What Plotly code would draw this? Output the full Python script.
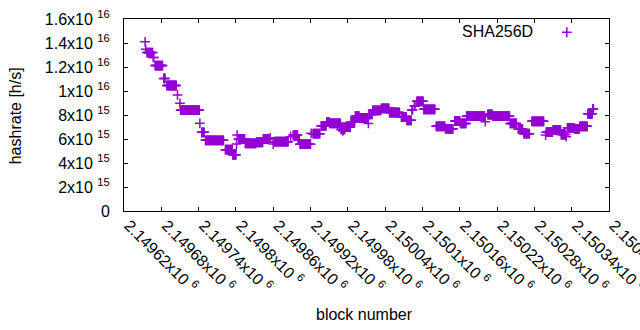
import plotly.graph_objects as go

# ---- data (runs of equal hashrate over consecutive blocks) ----
run_start = [2149654, 2149655, 2149657, 2149667, 2149670, 2149684, 2149689, 2149706, 2149710, 2149711,
             2149742, 2149745, 2149751, 2149783, 2149795, 2149801, 2149802, 2149804, 2149815, 2149833,
             2149844, 2149855, 2149860, 2149862, 2149888, 2149892, 2149900, 2149903, 2149921, 2149924,
             2149937, 2149946, 2149951, 2149969, 2149972, 2149973, 2149976, 2149985, 2149992, 2149999,
             2150013, 2150014, 2150020, 2150034, 2150047, 2150066, 2150075, 2150083, 2150087, 2150091,
             2150102, 2150122, 2150137, 2150152, 2150161, 2150171, 2150201, 2150205, 2150213, 2150241,
             2150254, 2150263, 2150276, 2150298, 2150299, 2150310, 2150323, 2150331, 2150333, 2150345,
             2150353, 2150366, 2150374]
run_end = [2149654, 2149655, 2149666, 2149668, 2149682, 2149686, 2149704, 2149706, 2149710, 2149741,
           2149742, 2149749, 2149780, 2149794, 2149800, 2149801, 2149802, 2149814, 2149832, 2149843,
           2149853, 2149855, 2149860, 2149884, 2149888, 2149899, 2149902, 2149920, 2149921, 2149935,
           2149945, 2149950, 2149968, 2149971, 2149972, 2149975, 2149984, 2149991, 2149998, 2150012,
           2150013, 2150019, 2150033, 2150046, 2150063, 2150074, 2150082, 2150084, 2150088, 2150101,
           2150120, 2150136, 2150149, 2150160, 2150170, 2150200, 2150201, 2150212, 2150240, 2150251,
           2150261, 2150272, 2150295, 2150298, 2150309, 2150322, 2150330, 2150331, 2150344, 2150352,
           2150365, 2150373, 2150375]
run_value_e15 = [14.1, 13.47, 13.2, 12.8, 12.12, 11.05, 10.46, 9.67, 8.97, 8.40,
                 7.31, 6.56, 5.89, 5.11, 4.68, 5.58, 6.33, 6.0, 5.64, 5.73,
                 6.0, 6.1, 5.58, 5.78, 6.19, 6.33, 5.9, 5.57, 6.47, 6.44,
                 7.1, 7.4, 7.3, 6.8, 6.67, 6.8, 7.0, 7.42, 7.9, 7.75,
                 7.3, 8.05, 8.39, 8.56, 8.21, 7.83, 7.56, 8.42, 8.75, 9.14,
                 8.47, 7.06, 6.85, 7.5, 7.3, 7.9, 7.44, 8.04, 7.9, 7.3,
                 6.82, 6.44, 7.47, 6.33, 6.57, 6.75, 6.37, 6.19, 6.93, 6.82,
                 7.06, 8.1, 8.5]

y_tick_vals = [0, 2e15, 4e15, 6e15, 8e15, 1e16, 1.2e16, 1.4e16, 1.6e16]
y_tick_text = ["0", "2x10 <sup>15</sup>", "4x10 <sup>15</sup>", "6x10 <sup>15</sup>", "8x10 <sup>15</sup>",
               "1x10 <sup>16</sup>", "1.2x10 <sup>16</sup>", "1.4x10 <sup>16</sup>", "1.6x10 <sup>16</sup>"]
x_tick_vals = [2149620 + 60 * i for i in range(14)]
x_tick_text = ["2.14962", "2.14968", "2.14974", "2.1498", "2.14986", "2.14992", "2.14998",
               "2.15004", "2.1501", "2.15016", "2.15022", "2.15028", "2.15034", "2.1504"]
x_tick_text = [t + "x10 <sup>6</sup>" for t in x_tick_text]

series_name = "SHA256D"
color = "#9400D3"

# expand runs into one point per block
blocks, values = [], []
for s, e, v in zip(run_start, run_end, run_value_e15):
    for b in range(s, e + 1):
        blocks.append(b)
        values.append(v * 1e15)

font = dict(family="Liberation Sans, Arial, sans-serif", size=16, color="#000000")

fig = go.Figure()
fig.add_trace(go.Scatter(
    x=blocks, y=values, mode="markers", name=series_name, showlegend=False,
    marker=dict(symbol="cross-thin", size=7, color=color, line=dict(color=color, width=1.5)),
))
# legend key (gnuplot style: text then sample)
fig.add_trace(go.Scatter(
    x=[0.913], y=[0.931], xaxis="x2", yaxis="y2", mode="markers", showlegend=False,
    marker=dict(symbol="cross-thin", size=7, color=color, line=dict(color=color, width=1.5)),
    hoverinfo="skip",
))

axis_common = dict(showline=True, linecolor="#000000", linewidth=1, mirror="ticks",
                   ticks="inside", ticklen=4, tickcolor="#000000", tickwidth=1,
                   showgrid=False, zeroline=False, tickfont=font, automargin=False,
                   ticklabeloverflow="allow")

fig.update_layout(
    template="none",
    width=640, height=330,
    margin=dict(l=124, r=31, t=19, b=119, autoexpand=False),
    paper_bgcolor="white", plot_bgcolor="white",
    font=font,
    showlegend=False,
    xaxis=dict(range=[2149620, 2150400], tickvals=x_tick_vals, ticktext=x_tick_text,
               tickangle=45, ticklabelshift=5, ticklabelstandoff=-2, **axis_common),
    yaxis=dict(range=[0, 1.6e16], tickvals=y_tick_vals, ticktext=y_tick_text,
               ticklabelstandoff=10, **axis_common),
    xaxis2=dict(overlaying="x", range=[0, 1], visible=False),
    yaxis2=dict(overlaying="y", range=[0, 1], visible=False),
    annotations=[
        dict(text=series_name, xref="paper", yref="paper", x=0.847, y=0.933,
             xanchor="right", yanchor="middle", showarrow=False, font=font),
        dict(text="block number", xref="paper", yref="paper", x=0.495, y=-0.54,
             xanchor="center", yanchor="middle", showarrow=False, font=font),
        dict(text="hashrate [h/s]", xref="paper", yref="paper", x=-0.222, y=0.495,
             xanchor="center", yanchor="middle", textangle=-90, showarrow=False, font=font),
    ],
)

fig.write_html("out.html", config={"displayModeBar": False},
               post_script="document.body.style.margin='0';document.body.style.overflow='hidden';")
